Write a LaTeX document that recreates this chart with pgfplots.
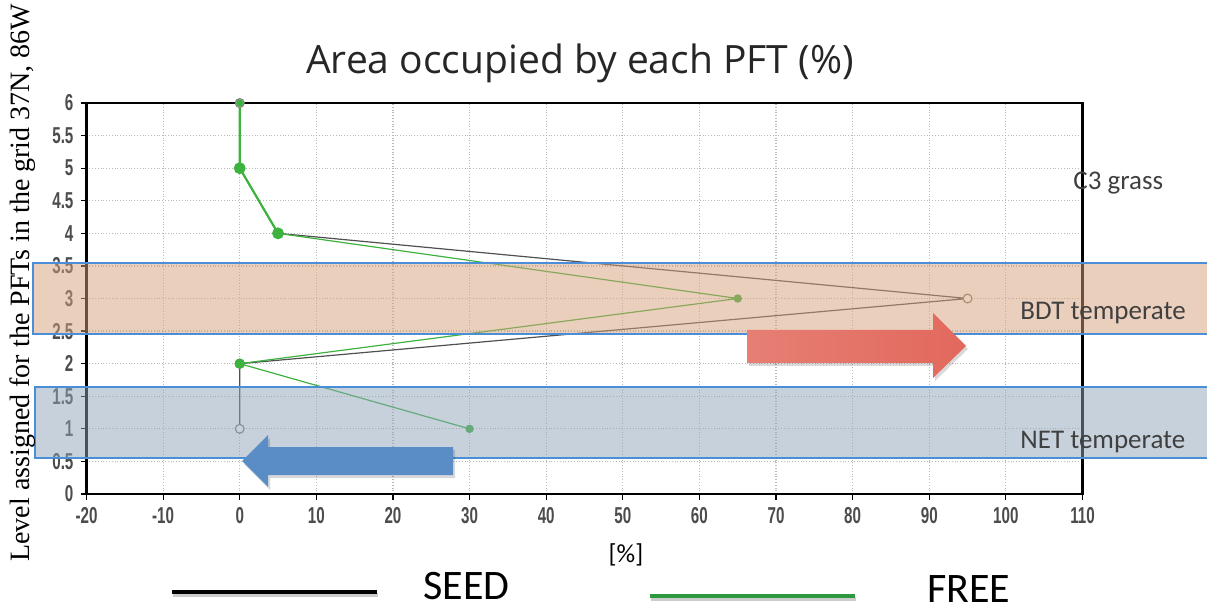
\documentclass[border=0pt]{standalone}
\usepackage{fontspec}
\setmainfont{Carlito}
\newfontfamily\titlefont{Open Sans}
\newfontfamily\labelserif{Liberation Serif}
\newfontfamily\tickfont[FakeStretch=0.66]{Liberation Sans}
\usepackage{pgfplots}
\pgfplotsset{compat=1.18}

\definecolor{freegreen}{HTML}{3DB23F}
\definecolor{legendgreen}{HTML}{2E9A40}
\definecolor{seedgray}{HTML}{505050}
\definecolor{bandorange}{HTML}{D6A07A}
\definecolor{bandblue}{HTML}{8FA4BA}
\definecolor{bandedge}{HTML}{4A8ED8}
\definecolor{arrowred}{HTML}{E2685C}
\definecolor{arrowblue}{HTML}{5A8CC6}
\definecolor{notegray}{HTML}{404040}

\begin{document}
\begin{tikzpicture}
% picture laid out in pixels of the reference: 1 px = 0.5pt, origin top left
\begin{axis}[
  at={(43.25pt,-247pt)}, anchor=south west,
  scale only axis, width=498pt, height=195.5pt,
  xmin=-20, xmax=110, ymin=0, ymax=6,
  xtick={-20,-10,...,110}, ytick={0,0.5,...,6},
  tick pos=left, tick align=outside, major tick length=3pt,
  grid=major, major grid style={densely dotted, gray!55, line width=0.6pt},
  axis line style={black, line width=1.1pt},
  tick style={black, line width=0.6pt},
  tick label style={font=\tickfont\bfseries\fontsize{11.5}{12}\selectfont, text=black!70},
  /pgf/number format/assume math mode=true,
  /pgf/number format/fixed,
]
% SEED
\addplot[seedgray, line width=0.6pt, mark=*, mark size=2.2pt,
  mark options={fill=white, draw=gray}]
  coordinates {(0,6) (0,5) (5,4) (95,3) (0,2) (0,1)};
% FREE
\addplot[freegreen, line width=0.6pt, mark=*, mark size=1.8pt]
  coordinates {(5,4) (65,3) (0,2) (30,1)};
\addplot[freegreen, line width=1.1pt, mark=*, mark size=2.4pt, mark indices={2,3}]
  coordinates {(0,6) (0,5) (5,4)};
\addplot[freegreen, only marks, mark=*, mark size=1.6pt] coordinates {(0,6)};
\addplot[freegreen, only marks, mark=*, mark size=2.4pt] coordinates {(0,2)};
\end{axis}

\begin{scope}[x=0.5pt, y=-0.5pt]
  % bands
  \fill[bandorange, fill opacity=0.5] (33,263) rectangle (1215,334);
  \draw[bandedge, line width=0.7pt] (33,263) rectangle (1215,334);
  \fill[bandblue, fill opacity=0.5] (35,387) rectangle (1215,458);
  \draw[bandedge, line width=0.7pt] (35,387) rectangle (1215,458);
  % arrows
  \fill[black, opacity=0.15] (749,333) -- (935,333) -- (935,316) -- (968,349)
    -- (935,381) -- (935,366) -- (749,366) -- cycle;
  \shade[left color=arrowred!85!white, right color=arrowred] (747,330) -- (933,330) -- (933,313) -- (966,346)
    -- (933,378) -- (933,363) -- (747,363) -- cycle;
  \fill[black, opacity=0.15] (244,464) -- (270,438) -- (270,450) -- (455,450)
    -- (455,478) -- (270,478) -- (270,490) -- cycle;
  \fill[arrowblue] (242,461) -- (268,435) -- (268,447) -- (453,447)
    -- (453,475) -- (268,475) -- (268,487) -- cycle;
  % notes
  \node[anchor=west, text=notegray, font=\fontsize{13.5}{14}\selectfont, inner sep=0pt]
    at (1073,183) {C3 grass};
  \node[anchor=west, text=notegray, font=\fontsize{13.5}{14}\selectfont, inner sep=0pt]
    at (1020,313) {BDT temperate};
  \node[anchor=west, text=notegray, font=\fontsize{13.5}{14}\selectfont, inner sep=0pt]
    at (1020,442) {NET temperate};
  % title and labels
  \node[anchor=base, font=\titlefont\fontsize{19.5}{22}\selectfont, text=black!85, inner sep=0pt]
    at (580,74) {Area occupied by each PFT (\%)};
  \node[anchor=base west, rotate=90, font=\labelserif\fontsize{14}{16}\selectfont, inner sep=0pt]
    at (30,562) {Level assigned for the PFTs in the grid 37N, 86W};
  \node[font=\fontsize{13}{14}\selectfont, inner sep=0pt] at (626,555) {[\%]};
  % legend
  \draw[black, opacity=0.2, line width=2.4pt] (173,595) -- (378,595);
  \draw[black, line width=2pt] (172,592) -- (377,592);
  \node[anchor=west, font=\fontsize{21}{23}\selectfont, inner sep=0pt] at (423,586) {SEED};
  \draw[black, opacity=0.2, line width=2.4pt] (651,599) -- (856,599);
  \draw[legendgreen, line width=2pt] (650,596) -- (855,596);
  \node[anchor=west, font=\fontsize{21}{23}\selectfont, inner sep=0pt] at (927,589) {FREE};
  \pgfresetboundingbox
  \useasboundingbox (0,0) rectangle (1207,610);
\end{scope}
\end{tikzpicture}
\end{document}
